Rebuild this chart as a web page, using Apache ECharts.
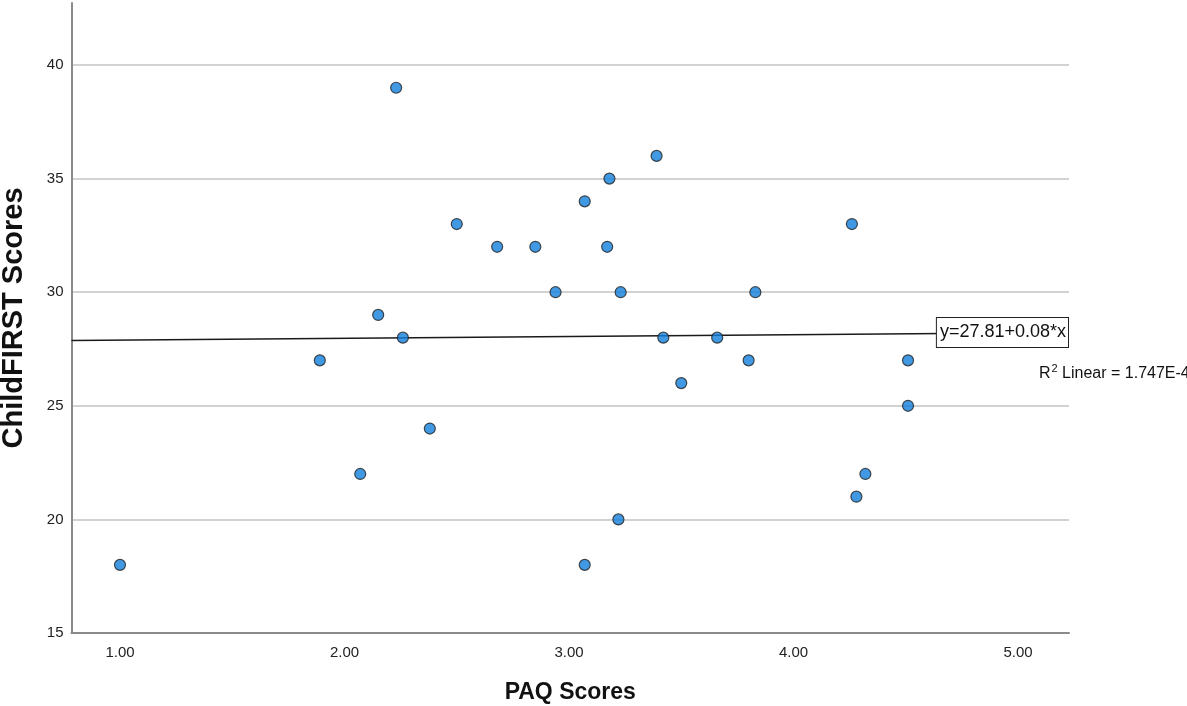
<!DOCTYPE html>
<html>
<head>
<meta charset="utf-8">
<script src="https://cdn.jsdelivr.net/npm/echarts@6/dist/echarts.min.js"></script>
<style>
  html, body { margin: 0; padding: 0; background: #fff; }
  #chart { width: 1187px; height: 706px; }
</style>
</head>
<body>
<div id="chart"></div>
<script>
// PAQ score for each participant
const paqScores = [
  1.00, 1.89, 2.07, 2.15, 2.23, 2.26, 2.38, 2.50, 2.68, 2.85,
  2.94, 3.07, 3.07, 3.17, 3.18, 3.22, 3.23, 3.39, 3.42, 3.50,
  3.66, 3.80, 3.83, 4.26, 4.28, 4.32, 4.51, 4.51
];
// matching ChildFIRST score for each participant
const childFirstScores = [
  18, 27, 22, 29, 39, 28, 24, 33, 32, 32,
  30, 34, 18, 32, 35, 20, 30, 36, 28, 26,
  28, 27, 30, 33, 21, 22, 27, 25
];
// linear fit
const fitIntercept = 27.81;
const fitSlope = 0.08;
const rSquaredText = '1.747E-4';
// axis ticks
const xTicks = [1, 2, 3, 4, 5];
const yTicks = [15, 20, 25, 30, 35, 40];
const xRange = [0.784, 5.227];
const yRange = [15, 42.73];

const points = paqScores.map((x, i) => [x, childFirstScores[i]]);
const fitLine = xRange.map(x => [x, fitIntercept + fitSlope * x]);

const chart = echarts.init(document.getElementById('chart'), null, { renderer: 'canvas' });
const font = 'Liberation Sans, Arial, sans-serif';

chart.setOption({
  backgroundColor: '#ffffff',
  animation: false,
  grid: { left: 71.5, right: 118, top: 3, bottom: 73, containLabel: false, outerBoundsMode: 'none' },
  xAxis: {
    type: 'value',
    min: xRange[0],
    max: xRange[1],
    name: 'PAQ Scores',
    nameLocation: 'middle',
    nameGap: 48,
    nameTextStyle: { fontFamily: font, fontSize: 23, fontWeight: 'bold', color: '#111' },
    axisLine: { show: true, lineStyle: { color: '#8a8a8a', width: 2 } },
    axisTick: { show: false, customValues: xTicks },
    axisLabel: {
      customValues: xTicks,
      margin: 12,
      fontFamily: font, fontSize: 15, color: '#222',
      formatter: v => v.toFixed(2)
    },
    splitLine: { show: false }
  },
  yAxis: {
    type: 'value',
    min: yRange[0],
    max: yRange[1],
    name: 'ChildFIRST Scores',
    nameLocation: 'middle',
    nameGap: 43,
    nameRotate: 90,
    nameTextStyle: { fontFamily: font, fontSize: 29, fontWeight: 'bold', color: '#111' },
    axisLine: { show: true, lineStyle: { color: '#8a8a8a', width: 2 } },
    axisTick: { show: false, customValues: yTicks },
    axisLabel: {
      customValues: yTicks,
      margin: 8,
      fontFamily: font, fontSize: 15, color: '#222'
    },
    splitLine: { show: true, lineStyle: { color: '#d2d2d2', width: 2 } }
  },
  series: [
    {
      type: 'line',
      data: fitLine.map((p, i) => i === fitLine.length - 1 ? {
        value: p,
        label: {
          show: true,
          position: 'left',
          distance: 1,
          formatter: 'y=' + fitIntercept.toFixed(2) + '+' + fitSlope.toFixed(2) + '*x',
          fontFamily: font, fontSize: 18, color: '#111',
          backgroundColor: '#fff',
          borderColor: '#222', borderWidth: 1,
          padding: [6, 2, 5, 3]
        }
      } : p),
      showSymbol: true,
      symbol: 'circle',
      symbolSize: 0,
      lineStyle: { color: '#1a1a1a', width: 1.5 },
      z: 3
    },
    {
      type: 'scatter',
      data: points,
      symbol: 'circle',
      symbolSize: 11,
      itemStyle: { color: '#117fdc', borderColor: '#222222', borderWidth: 1.2 },
      z: 4
    }
  ],
  graphic: [{
    type: 'text',
    left: 1039,
    top: 363,
    style: {
      text: '{r|R}{s|2}{r| Linear = ' + rSquaredText + '}',
      rich: {
        r: { fontFamily: font, fontSize: 16, fill: '#111', verticalAlign: 'bottom', lineHeight: 19 },
        s: { fontFamily: font, fontSize: 11, fill: '#111', verticalAlign: 'top', lineHeight: 19, padding: [0, 0, 8, 1] }
      }
    }
  }]
});
</script>
</body>
</html>
